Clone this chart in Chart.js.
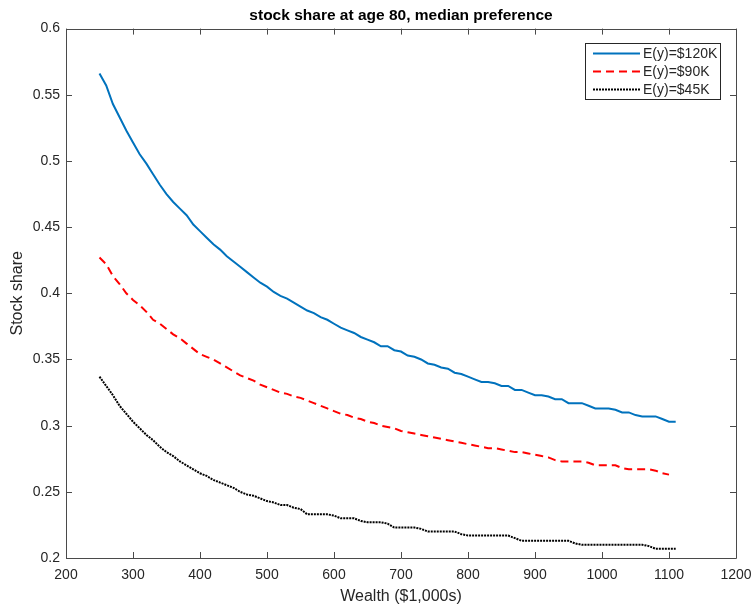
<!DOCTYPE html>
<html>
<head>
<meta charset="utf-8">
<script src="https://cdn.jsdelivr.net/npm/chart.js@4/dist/chart.umd.min.js"></script>
<style>
  html, body { margin: 0; padding: 0; background: #fff; }
  #wrap { width: 752px; height: 606px; }
</style>
</head>
<body>
<div id="wrap"><canvas id="shareChart"></canvas></div>
<script>
// wealth grid ($1,000s)
const wealth = [
  250, 260, 270, 280, 290, 300, 310, 320, 330, 340,
  350, 360, 370, 380, 390, 400, 410, 420, 430, 440,
  450, 460, 470, 480, 490, 500, 510, 520, 530, 540,
  550, 560, 570, 580, 590, 600, 610, 620, 630, 640,
  650, 660, 670, 680, 690, 700, 710, 720, 730, 740,
  750, 760, 770, 780, 790, 800, 810, 820, 830, 840,
  850, 860, 870, 880, 890, 900, 910, 920, 930, 940,
  950, 960, 970, 980, 990, 1000, 1010, 1020, 1030, 1040,
  1050, 1060, 1070, 1080, 1090, 1100, 1110
];

const share120 = [
  0.566, 0.557, 0.543, 0.533, 0.523, 0.514, 0.505, 0.498, 0.490, 0.482,
  0.475, 0.469, 0.464, 0.459, 0.452, 0.447, 0.442, 0.437, 0.433, 0.428,
  0.424, 0.420, 0.416, 0.412, 0.408, 0.405, 0.401, 0.398, 0.396, 0.393,
  0.390, 0.387, 0.385, 0.382, 0.380, 0.377, 0.374, 0.372, 0.370, 0.367,
  0.365, 0.363, 0.360, 0.360, 0.357, 0.356, 0.353, 0.352, 0.350, 0.347,
  0.346, 0.344, 0.343, 0.340, 0.339, 0.337, 0.335, 0.333, 0.333, 0.332,
  0.330, 0.330, 0.327, 0.327, 0.325, 0.323, 0.323, 0.322, 0.320, 0.320,
  0.317, 0.317, 0.317, 0.315, 0.313, 0.313, 0.313, 0.312, 0.310, 0.310,
  0.308, 0.307, 0.307, 0.307, 0.305, 0.303, 0.303
];

const share90 = [
  0.427, 0.422, 0.413, 0.407, 0.400, 0.395, 0.391, 0.386, 0.380, 0.377,
  0.373, 0.369, 0.366, 0.362, 0.358, 0.354, 0.352, 0.350, 0.347, 0.344,
  0.341, 0.338, 0.336, 0.334, 0.331, 0.329, 0.327, 0.325, 0.324, 0.322,
  0.321, 0.319, 0.317, 0.315, 0.313, 0.311, 0.309, 0.308, 0.306, 0.305,
  0.303, 0.302, 0.300, 0.299, 0.298, 0.296, 0.295, 0.294, 0.293, 0.292,
  0.291, 0.290, 0.289, 0.288, 0.287, 0.286, 0.285, 0.284, 0.283, 0.283,
  0.282, 0.281, 0.280, 0.280, 0.279, 0.278, 0.277, 0.276, 0.274, 0.273,
  0.273, 0.273, 0.273, 0.272, 0.270, 0.270, 0.270, 0.270, 0.268, 0.267,
  0.267, 0.267, 0.267, 0.266, 0.264, 0.263, null
];

const share45 = [
  0.337, 0.330, 0.323, 0.315, 0.309, 0.303, 0.298, 0.293, 0.289, 0.284,
  0.280, 0.277, 0.273, 0.270, 0.267, 0.264, 0.262, 0.259, 0.257, 0.255,
  0.253, 0.250, 0.248, 0.247, 0.245, 0.243, 0.242, 0.240, 0.240, 0.238,
  0.237, 0.233, 0.233, 0.233, 0.233, 0.232, 0.230, 0.230, 0.230, 0.228,
  0.227, 0.227, 0.227, 0.226, 0.223, 0.223, 0.223, 0.223, 0.222, 0.220,
  0.220, 0.220, 0.220, 0.220, 0.218, 0.217, 0.217, 0.217, 0.217, 0.217,
  0.217, 0.217, 0.215, 0.213, 0.213, 0.213, 0.213, 0.213, 0.213, 0.213,
  0.213, 0.211, 0.210, 0.210, 0.210, 0.210, 0.210, 0.210, 0.210, 0.210,
  0.210, 0.210, 0.209, 0.207, 0.207, 0.207, 0.207
];

const seriesLabels = ["E(y)=$120K", "E(y)=$90K", "E(y)=$45K"];
const xTicks = [200, 300, 400, 500, 600, 700, 800, 900, 1000, 1100, 1200];
const yTicks = [0.2, 0.25, 0.3, 0.35, 0.4, 0.45, 0.5, 0.55, 0.6];

const FONT = "'Liberation Sans', Arial, Helvetica, sans-serif";
const INK = "#262626";

function points(ys) {
  return wealth.map((x, i) => ({ x: x, y: ys[i] })).filter(p => p.y !== null);
}

// MATLAB-like box with inward ticks on all four sides
const axesBox = {
  id: "axesBox",
  afterDatasetsDraw(chart) {
    const { ctx, chartArea: a, scales } = chart;
    const len = 6;
    ctx.save();
    ctx.strokeStyle = "#4a4a4a";
    ctx.lineWidth = 1;
    ctx.beginPath();
    ctx.rect(Math.round(a.left) + 0.5, Math.round(a.top) + 0.5,
      Math.round(a.right - a.left), Math.round(a.bottom - a.top));
    xTicks.forEach(v => {
      const px = Math.round(scales.x.getPixelForValue(v)) + 0.5;
      ctx.moveTo(px, a.bottom); ctx.lineTo(px, a.bottom - len);
      ctx.moveTo(px, a.top); ctx.lineTo(px, a.top + len);
    });
    yTicks.forEach(v => {
      const py = Math.round(scales.y.getPixelForValue(v)) + 0.5;
      ctx.moveTo(a.left, py); ctx.lineTo(a.left + len, py);
      ctx.moveTo(a.right, py); ctx.lineTo(a.right - len, py);
    });
    ctx.stroke();
    ctx.restore();
  }
};

// legend box in the upper right corner of the axes
const boxLegend = {
  id: "boxLegend",
  afterDraw(chart) {
    const { ctx, chartArea: a } = chart;
    const w = 135, h = 56;
    const x0 = a.right - 16 - w, y0 = a.top + 14;
    ctx.save();
    ctx.fillStyle = "#fff";
    ctx.fillRect(x0, y0, w, h);
    ctx.strokeStyle = "#262626";
    ctx.lineWidth = 1;
    ctx.strokeRect(Math.round(x0) + 0.5, Math.round(y0) + 0.5, w, h);
    ctx.font = "14px " + FONT;
    ctx.textBaseline = "middle";
    chart.data.datasets.forEach((ds, i) => {
      const yy = y0 + 11 + i * 18;
      ctx.beginPath();
      ctx.strokeStyle = ds.borderColor;
      ctx.lineWidth = ds.borderWidth;
      ctx.setLineDash(ds.borderDash || []);
      ctx.moveTo(x0 + 8, yy);
      ctx.lineTo(x0 + 55, yy);
      ctx.stroke();
      ctx.setLineDash([]);
      ctx.fillStyle = INK;
      ctx.fillText(ds.label, x0 + 58, yy + 1);
    });
    ctx.restore();
  }
};

new Chart(document.getElementById("shareChart"), {
  type: "line",
  data: {
    datasets: [
      {
        label: seriesLabels[0],
        data: points(share120),
        borderColor: "#0072BD",
        borderWidth: 2,
      },
      {
        label: seriesLabels[1],
        data: points(share90),
        borderColor: "#FF0000",
        borderWidth: 2,
        borderDash: [8, 5],
      },
      {
        label: seriesLabels[2],
        data: points(share45),
        borderColor: "#000000",
        borderWidth: 2,
        borderDash: [2, 1],
      },
    ],
  },
  options: {
    responsive: true,
    maintainAspectRatio: false,
    animation: false,
    layout: { padding: { top: 0, right: 16, bottom: 0, left: 8 } },
    elements: { point: { radius: 0 }, line: { tension: 0 } },
    plugins: {
      legend: { display: false },
      tooltip: { enabled: false },
      title: {
        display: true,
        fullSize: false,
        text: "stock share at age 80, median preference",
        color: "#000",
        font: { family: FONT, size: 15.5, weight: "bold" },
        padding: { top: 6, bottom: 4 },
      },
    },
    scales: {
      x: {
        type: "linear",
        min: 200,
        max: 1200,
        afterBuildTicks: s => { s.ticks = xTicks.map(v => ({ value: v })); },
        afterFit: s => { s.height = 48; s.paddingLeft = 0; s.paddingRight = 0; },
        grid: { display: false, drawTicks: false },
        border: { display: false },
        ticks: {
          color: INK,
          padding: 9,
          font: { family: FONT, size: 14 },
          callback: v => String(v),
        },
        title: {
          display: true,
          text: "Wealth ($1,000s)",
          color: INK,
          padding: { top: 3, bottom: 0 },
          font: { family: FONT, size: 16 },
        },
      },
      y: {
        type: "linear",
        min: 0.2,
        max: 0.6,
        afterBuildTicks: s => { s.ticks = yTicks.map(v => ({ value: v })); },
        afterFit: s => { s.width = 58; },
        grid: { display: false, drawTicks: false },
        border: { display: false },
        ticks: {
          color: INK,
          padding: 6,
          font: { family: FONT, size: 14 },
          callback: v => String(v),
        },
        title: {
          display: true,
          text: "Stock share",
          color: INK,
          padding: { top: 0, bottom: 4 },
          font: { family: FONT, size: 16 },
        },
      },
    },
  },
  plugins: [axesBox, boxLegend],
});
</script>
</body>
</html>
